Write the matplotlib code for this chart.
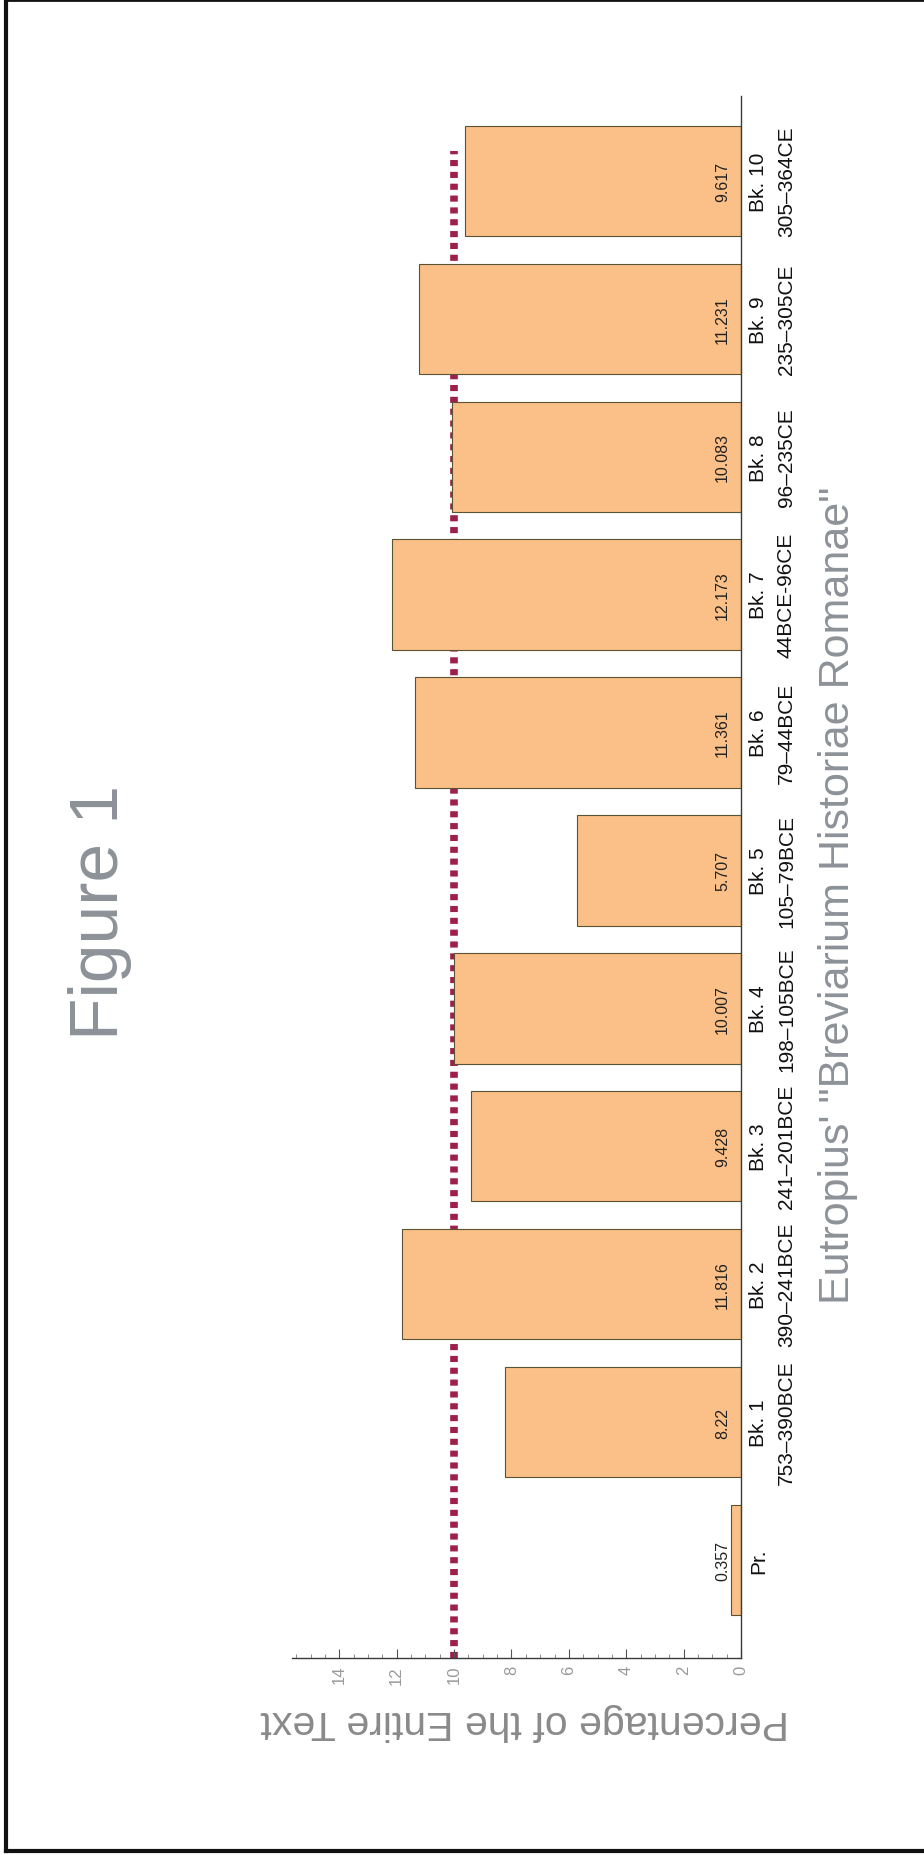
"""Share of Eutropius' Breviarium by book, drawn as the rotated scanned figure."""
import numpy as np
import matplotlib

matplotlib.use("Agg")
import matplotlib.pyplot as plt
from matplotlib.lines import Line2D
from matplotlib.ticker import MultipleLocator

plt.rcParams["font.family"] = ["Liberation Sans", "DejaVu Sans"]

# data
BOOKS = ["Pr.", "Bk. 1", "Bk. 2", "Bk. 3", "Bk. 4", "Bk. 5",
         "Bk. 6", "Bk. 7", "Bk. 8", "Bk. 9", "Bk. 10"]
PERIODS = ["", "753\u2013390BCE", "390\u2013241BCE", "241\u2013201BCE",
           "198\u2013105BCE", "105\u201379BCE", "79\u201344BCE", "44BCE-96CE",
           "96\u2013235CE", "235\u2013305CE", "305\u2013364CE"]
PERCENT = [0.357, 8.22, 11.816, 9.428, 10.007, 5.707,
           11.361, 12.173, 10.083, 11.231, 9.617]
EVEN_SHARE = 10
VALUE_TICKS = [0, 2, 4, 6, 8, 10, 12, 14]

TITLE = "Figure 1"
CAT_TITLE = "Eutropius' \"Breviarium Historiae Romanae\""
VAL_TITLE = "Percentage of the Entire Text"

BAR = "#FBC087"
EDGE = "#5b5232"
CRIMSON = "#9E1F4A"
GREY_TXT = "#8d9298"

W, H = 924, 1856


def fx(px):
    return px / W


def fy(py):
    return 1 - py / H


fig = plt.figure(figsize=(W / 100, H / 100), dpi=100)
fig.patch.set_facecolor("white")

# value axis runs right->left along the page, categories bottom->top
ax = fig.add_axes([fx(292), fy(1659), (741 - 292) / W, (1659 - 97) / H])
pos = np.arange(len(BOOKS))
ax.barh(pos, PERCENT, height=0.8, color=BAR, edgecolor=EDGE, lw=0.8, zorder=2)
ax.set_xlim(15.65, 0)
ax.set_ylim(-0.711, 10.616)

ax.plot([EVEN_SHARE, EVEN_SHARE], [-0.711, pos[-1] + 0.22], color=CRIMSON,
        lw=5.5, linestyle=(0, (0.8, 0.75)), solid_capstyle="butt",
        dash_capstyle="butt", zorder=1)

for side in ("left", "top"):
    ax.spines[side].set_visible(False)
for side in ("right", "bottom"):
    ax.spines[side].set_color("#3a3a3a")
    ax.spines[side].set_linewidth(1.0)

ax.set_yticks([])
ax.set_xticks(VALUE_TICKS)
ax.set_xticklabels([str(v) for v in VALUE_TICKS])
ax.xaxis.set_minor_locator(MultipleLocator(0.5))
ax.tick_params(axis="x", which="major", direction="in", length=6.5, width=0.8,
               color="#555555", labelcolor="#9a9a9a", labelsize=12,
               labelrotation=90, pad=5)
ax.tick_params(axis="x", which="minor", direction="in", length=3, width=0.6,
               color="#777777")

ytr = ax.get_yaxis_transform()
for i, (book, period, v) in enumerate(zip(BOOKS, PERIODS, PERCENT)):
    ax.annotate(str(v), xy=(0, i), xycoords="data", xytext=(-8, 0),
                textcoords="offset points", rotation=90, ha="right",
                va="center", fontsize=11.5, color="#222222")
    ax.annotate(book, xy=(1, i), xycoords=ytr, xytext=(5.8, 0),
                textcoords="offset points", rotation=90, ha="left",
                va="center", fontsize=15, color="#111111")
    if period:
        ax.annotate(period, xy=(1, i), xycoords=ytr, xytext=(25.9, 0),
                    textcoords="offset points", rotation=90, ha="left",
                    va="center", fontsize=15, color="#111111")

fig.text(fx(100), fy(913), TITLE, rotation=90, ha="center", va="center",
         fontsize=50, color=GREY_TXT)
fig.text(fx(838), fy(895), CAT_TITLE, rotation=90, ha="center", va="center",
         fontsize=31, color=GREY_TXT)
fig.text(fx(525), fy(1722), VAL_TITLE, rotation=180, ha="center",
         va="center", fontsize=29.5, color="#8a8a8a")

# page frame of the scan
for xs, ys, lw in [((6, 6), (0, 1852), 3.0),
                   ((6, 924), (1, 1), 2.0),
                   ((6, 924), (1852, 1852), 3.0)]:
    fig.add_artist(Line2D([fx(x) for x in xs], [fy(y) for y in ys],
                          transform=fig.transFigure, color="#111111", lw=lw))

fig.savefig("out.png", dpi=100)
